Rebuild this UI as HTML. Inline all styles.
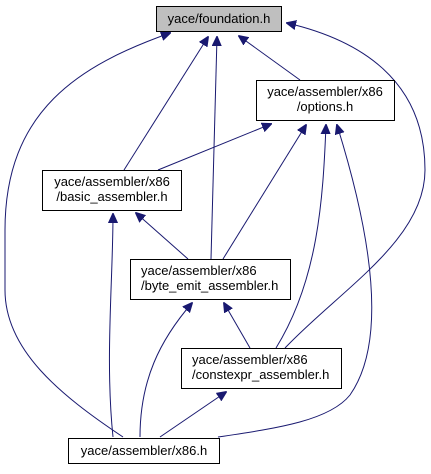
<!DOCTYPE html>
<html><head><style>
html,body{margin:0;padding:0;background:#fff;}
svg text{font-family:"Liberation Sans",Arial,sans-serif;font-size:13px;fill:#000;}
</style></head><body>
<svg width="431" height="469" viewBox="0 0 431 469" xmlns="http://www.w3.org/2000/svg">
<defs><marker id="a" markerWidth="10" markerHeight="10" refX="9" refY="5" orient="auto" markerUnits="userSpaceOnUse">
<path d="M0,0.5 L10,5 L0,9.5 z" fill="#191970" stroke="#191970"/></marker></defs>
<g fill="none" stroke="#191970" stroke-width="1" marker-end="url(#a)">
<path d="M123,437 C60,395 5,350 5,290 L5,230 C5,110 80,65 170,33"/>
<path d="M124,170 L208,37"/>
<path d="M211,259 L217,37"/>
<path d="M300,80 L239,36"/>
<path d="M285,348 C340,290 425,240 425,170 C425,80 360,40 287,23"/>
<path d="M158,170 L271,124"/>
<path d="M223,259 L306,125"/>
<path d="M276,348 C318,280 323,200 326,125"/>
<path d="M218,437 C280,428 330,420 350,395 C385,345 376,250 337,125"/>
<path d="M250,348 L224,303"/>
<path d="M140,437 C140,380 160,340 192,303"/>
<path d="M113,437 C105,360 113,280 113,214"/>
<path d="M188,259 L136,213"/>
<path d="M160,437 L226,392"/>
</g>
<g stroke="#000" stroke-width="1">
<rect x="156.5" y="6.5" width="125" height="25" fill="#bfbfbf"/>
<rect x="256.5" y="80.5" width="138" height="40" fill="#fff"/>
<rect x="42.5" y="170.5" width="139" height="40" fill="#fff"/>
<rect x="130.5" y="259.5" width="160" height="40" fill="#fff"/>
<rect x="181.5" y="348.5" width="160" height="40" fill="#fff"/>
<rect x="68.5" y="438.5" width="151" height="25" fill="#fff"/>
</g>
<text x="219" y="23" text-anchor="middle">yace/foundation.h</text>
<text x="325" y="96" text-anchor="middle">yace/assembler/x86</text>
<text x="325" y="111" text-anchor="middle">/options.h</text>
<text x="112" y="186" text-anchor="middle">yace/assembler/x86</text>
<text x="112" y="201" text-anchor="middle">/basic_assembler.h</text>
<text x="141" y="275">yace/assembler/x86</text>
<text x="141" y="290">/byte_emit_assembler.h</text>
<text x="192" y="364">yace/assembler/x86</text>
<text x="192" y="379">/constexpr_assembler.h</text>
<text x="144" y="455" text-anchor="middle">yace/assembler/x86.h</text>
</svg>
</body></html>
